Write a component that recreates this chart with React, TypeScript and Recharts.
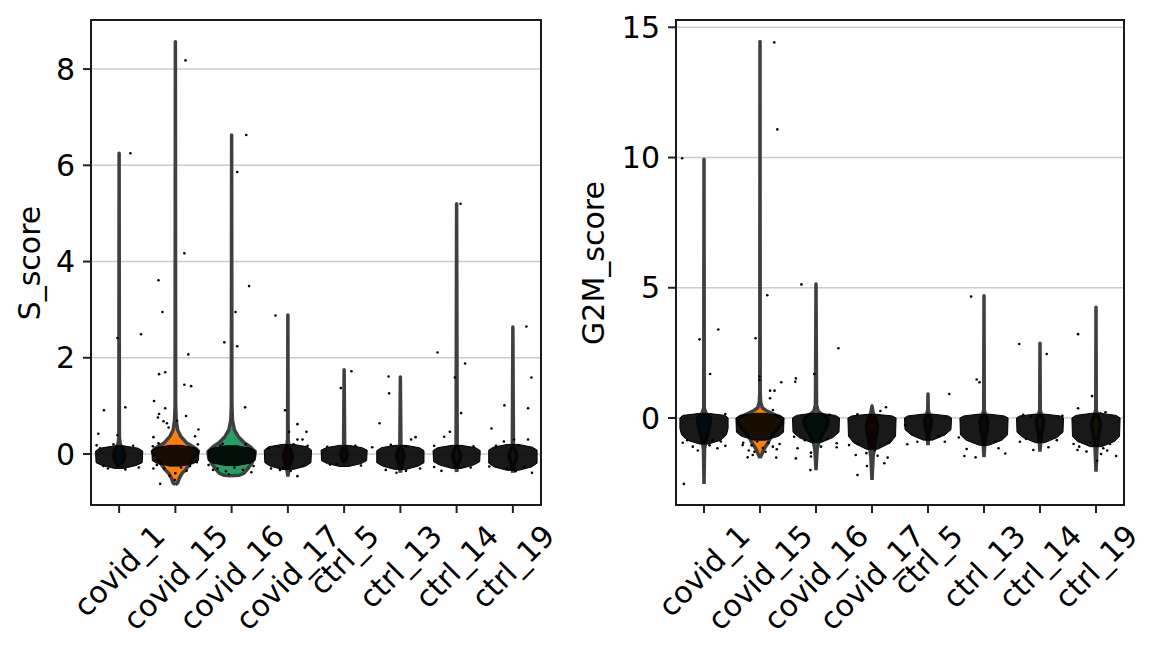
import React from "react";
import { ScatterChart, Scatter, XAxis, YAxis, CartesianGrid } from "recharts";

type Pair = [number, number];

const categories = ["covid_1", "covid_15", "covid_16", "covid_17", "ctrl_5", "ctrl_13", "ctrl_14", "ctrl_19"];
const palette = ["#1f77b4", "#ff7f0e", "#279e68", "#d62728", "#aa40fc", "#8c564b", "#e377c2", "#b5bd61"];

// violin outlines per sample: [score, half width in category units], bottom to top
const sScoreViolins: Pair[][] = [
  [[-0.27, 0], [-0.2, 0.05], [-0.1, 0.09], [0, 0.1], [0.1, 0.07], [0.2, 0.02], [0.35, 0.005], [6.25, 0]],
  [[-0.64, 0], [-0.6, 0.04], [-0.5, 0.07], [-0.4, 0.12], [-0.33, 0.18], [-0.2, 0.26], [-0.12, 0.31], [0, 0.39], [0.05, 0.41], [0.12, 0.36], [0.23, 0.2], [0.36, 0.1], [0.5, 0.04], [0.7, 0.015], [1.0, 0.005], [8.57, 0]],
  [[-0.45, 0], [-0.44, 0.14], [-0.4, 0.22], [-0.33, 0.27], [-0.19, 0.36], [-0.05, 0.41], [0.05, 0.42], [0.15, 0.33], [0.23, 0.23], [0.36, 0.12], [0.5, 0.05], [0.7, 0.015], [1.0, 0.005], [6.63, 0]],
  [[-0.47, 0], [-0.3, 0.02], [-0.15, 0.06], [-0.05, 0.08], [0.05, 0.06], [0.15, 0.02], [0.3, 0.005], [2.89, 0]],
  [[-0.17, 0], [-0.1, 0.04], [0, 0.06], [0.08, 0.04], [0.15, 0.01], [1.75, 0]],
  [[-0.39, 0], [-0.2, 0.03], [-0.05, 0.07], [0.05, 0.05], [0.15, 0.01], [1.6, 0]],
  [[-0.37, 0], [-0.2, 0.03], [-0.05, 0.07], [0.05, 0.05], [0.15, 0.01], [5.2, 0]],
  [[-0.39, 0], [-0.2, 0.03], [-0.05, 0.07], [0.05, 0.05], [0.15, 0.01], [2.64, 0]],
];

// dense core of the jittered cells: [score, half width]
const sScoreBands: Pair[][] = [
  [[-0.3, 0.08], [-0.24, 0.3], [-0.18, 0.41], [0.06, 0.42], [0.12, 0.34], [0.17, 0.08]],
  [[-0.25, 0.1], [-0.2, 0.32], [-0.14, 0.41], [0.08, 0.42], [0.13, 0.34], [0.18, 0.1]],
  [[-0.24, 0.1], [-0.19, 0.33], [-0.13, 0.42], [0.07, 0.42], [0.12, 0.34], [0.17, 0.1]],
  [[-0.32, 0.1], [-0.25, 0.32], [-0.18, 0.41], [0.08, 0.42], [0.15, 0.34], [0.2, 0.1]],
  [[-0.26, 0.08], [-0.2, 0.3], [-0.14, 0.4], [0.08, 0.41], [0.13, 0.32], [0.18, 0.08]],
  [[-0.32, 0.1], [-0.25, 0.32], [-0.18, 0.42], [0.07, 0.42], [0.13, 0.34], [0.18, 0.1]],
  [[-0.3, 0.08], [-0.23, 0.3], [-0.16, 0.41], [0.07, 0.42], [0.13, 0.34], [0.18, 0.08]],
  [[-0.34, 0.1], [-0.27, 0.33], [-0.19, 0.43], [0.08, 0.43], [0.14, 0.35], [0.2, 0.1]],
];

// single cells outside the core: [category position, score]
const sScoreDots: Pair[] = [
  [0.2, 6.25], [1.18, 8.18], [2.26, 6.63], [2.1, 5.86], [1.16, 4.17], [0.7, 3.61], [2.31, 3.49], [0.77, 2.95],
  [2.07, 2.95], [2.78, 2.88], [0.39, 2.49], [-0.03, 2.41], [1.87, 2.32], [2.1, 2.24], [1.23, 2.07], [0.71, 1.66],
  [0.82, 1.7], [-0.27, 0.91], [0.11, 0.97], [-0.37, 0.42], [-0.03, 0.39], [0.62, 1.1], [0.71, 0.83], [0.69, 0.76],
  [0.82, 0.95], [0.79, 0.68], [0.85, 0.64], [0.88, 0.55], [1.03, 0.69], [1.19, 0.79], [1.41, 0.51], [1.35, 0.37],
  [0.61, 0.35], [0.7, 0.22], [0.73, -0.62], [0.99, -0.54], [1.16, 1.44], [1.28, 1.41], [2.24, 0.97], [2.95, 0.91],
  [3.02, 0.46], [3.17, 0.62], [3.33, 0.46], [3.17, 0.3], [3.26, 0.3], [3.17, -0.46], [0.61, -0.3], [0.67, -0.23],
  [1.26, -0.25], [1.38, -0.17], [1.67, -0.33], [1.59, -0.23], [2.39, -0.25], [1.84, 0.21], [-0.28, -0.25],
  [0.11, -0.32], [-0.34, 0.12], [2.86, -0.33], [2.92, -0.28], [3.27, -0.25], [2.66, 0.12], [2.84, 0.15],
  [3.94, 1.37], [4.63, 0.64], [4.8, 1.26], [5.19, 0.3], [5.27, 0.35], [4.83, 0.19], [5.78, 0.36], [5.88, 0.46],
  [6.08, 0.85], [5.73, -0.35], [6.62, 0.53], [6.85, 1.01], [7.27, 0.95], [6.84, 0.26], [7.27, 0.3], [7.02, 0.3],
  [7.34, -0.39], [6.58, -0.26], [4.74, -0.33], [5.35, -0.3], [4.93, -0.39], [3.87, -0.21], [6.07, 5.2],
  [7.24, 2.65], [5.66, 2.11], [6.15, 1.88], [5.97, 1.59], [7.33, 1.59], [4.13, 1.72], [4.79, 1.61],
  [3.7, 0.15], [4.2, 0.17], [4.5, 0.14], [5.1, 0.16], [5.6, 0.17], [6.3, 0.16], [6.7, 0.17], [7.1, 0.18],
  [3.75, -0.22], [4.3, -0.24], [5.6, -0.27], [6.25, -0.28], [6.9, -0.3], [7.2, -0.27], [5.1, -0.35], [7.05, -0.36],
  [-0.4, 0.18], [-0.1, 0.2], [0.25, 0.17], [0.35, -0.28], [-0.2, -0.3], [1.8, 0.17], [2.25, 0.2], [2.35, -0.38],
  [2.7, -0.3], [3.1, 0.2], [3.35, 0.17], [1.0, -0.4], [1.2, -0.35], [0.6, 0.16], [1.4, 0.2], [3.05, -0.35],
  [0.8, -0.3], [1.1, -0.28], [0.9, -0.45], [1.75, -0.3], [1.9, -0.36], [2.05, -0.28], [2.2, -0.33], [1.95, -0.42],
];

const g2mScoreViolins: Pair[][] = [
  [[-2.53, 0], [-1.2, 0.01], [-0.9, 0.03], [-0.6, 0.07], [-0.3, 0.1], [0, 0.12], [0.1, 0.08], [0.2, 0.03], [0.4, 0.005], [9.93, 0]],
  [[-1.54, 0], [-1.4, 0.03], [-1.2, 0.07], [-1.0, 0.13], [-0.72, 0.2], [-0.45, 0.3], [-0.2, 0.4], [-0.05, 0.39], [0.05, 0.34], [0.18, 0.21], [0.3, 0.1], [0.4, 0.04], [0.6, 0.012], [1.0, 0.004], [14.45, 0]],
  [[-2.0, 0], [-1.2, 0.02], [-0.9, 0.05], [-0.6, 0.12], [-0.3, 0.2], [-0.1, 0.22], [0.05, 0.18], [0.15, 0.1], [0.25, 0.04], [0.5, 0.01], [5.14, 0]],
  [[-2.38, 0], [-1.5, 0.02], [-1.0, 0.05], [-0.6, 0.08], [-0.3, 0.1], [0, 0.06], [0.2, 0.02], [0.46, 0]],
  [[-1.04, 0], [-0.6, 0.02], [-0.3, 0.05], [-0.1, 0.06], [0.1, 0.03], [0.3, 0.005], [0.92, 0]],
  [[-1.5, 0], [-0.8, 0.02], [-0.4, 0.06], [-0.1, 0.07], [0.1, 0.03], [0.3, 0.005], [4.69, 0]],
  [[-1.29, 0], [-0.7, 0.02], [-0.35, 0.05], [-0.1, 0.07], [0.1, 0.03], [0.3, 0.005], [2.87, 0]],
  [[-2.06, 0], [-1.0, 0.02], [-0.5, 0.06], [-0.2, 0.08], [0.05, 0.04], [0.3, 0.005], [4.25, 0]],
];

const g2mScoreBands: Pair[][] = [
  [[-1.0, 0.08], [-0.85, 0.3], [-0.65, 0.4], [-0.4, 0.43], [0, 0.43], [0.1, 0.38], [0.17, 0.1]],
  [[-0.85, 0.1], [-0.7, 0.33], [-0.55, 0.42], [0, 0.43], [0.1, 0.36], [0.18, 0.08]],
  [[-0.95, 0.08], [-0.75, 0.3], [-0.55, 0.41], [0, 0.42], [0.1, 0.35], [0.18, 0.08]],
  [[-1.2, 0.1], [-0.95, 0.33], [-0.7, 0.42], [0, 0.43], [0.08, 0.36], [0.14, 0.08]],
  [[-0.85, 0.08], [-0.65, 0.3], [-0.45, 0.41], [0, 0.42], [0.08, 0.36], [0.15, 0.08]],
  [[-1.05, 0.08], [-0.85, 0.32], [-0.65, 0.42], [0, 0.43], [0.08, 0.36], [0.15, 0.08]],
  [[-0.95, 0.08], [-0.75, 0.3], [-0.55, 0.41], [0, 0.42], [0.08, 0.36], [0.15, 0.08]],
  [[-1.1, 0.1], [-0.9, 0.33], [-0.7, 0.42], [0, 0.43], [0.1, 0.36], [0.18, 0.08]],
];

const g2mScoreDots: Pair[] = [
  [1.255, 14.42], [1.31, 11.08], [-0.39, 9.97], [1.74, 5.13], [1.13, 4.71], [0.255, 3.4], [0.92, 3.06], [-0.08, 3.02],
  [0.11, 1.69], [0.99, 1.59], [0.99, 1.46], [1.38, 1.37], [1.18, 1.05], [1.26, 1.05], [1.18, 0.76], [1.23, 0.31],
  [0.38, 0.15], [2.4, 2.68], [1.97, 1.69], [1.64, 1.52], [1.63, 1.39], [2.24, 0.12], [2.74, 0.14], [3.15, 0.27],
  [3.25, 0.41], [3.59, -0.27], [-0.38, -0.95], [-0.11, -1.25], [0.38, -1.07], [0.24, -1.16], [0.78, -1.51],
  [0.87, -1.42], [1.29, -1.52], [1.23, -1.1], [0.69, -1.04], [1.64, -1.55], [1.61, -0.72], [1.67, -1.16],
  [1.91, -1.33], [1.91, -1.48], [1.9, -2.0], [2.09, -1.1], [2.37, -0.97], [2.37, -1.12], [2.74, -2.19],
  [2.91, -1.84], [2.71, -1.42], [2.59, -1.04], [3.28, -1.52], [3.22, -1.74], [3.15, -1.04], [-0.36, -2.53],
  [4.38, 0.92], [5.63, 2.84], [6.12, 2.46], [6.68, 3.22], [4.87, 1.48], [4.92, 1.37], [6.93, 0.84], [6.68, 0.37],
  [7.08, 0.18], [7.17, 0.22], [5.7, 0.12], [5.84, 0.05], [6.4, 0.08], [3.63, -1.01], [3.81, -0.91], [4.3, -0.91],
  [4.65, -1.46], [4.69, -1.19], [5.26, -1.16], [5.38, -1.36], [4.85, -1.51], [5.88, -1.23], [6.15, -1.12],
  [5.64, -0.91], [6.67, -1.23], [6.83, -1.29], [7.02, -1.64], [7.13, -1.16], [7.36, -1.46], [7.09, -1.38],
  [4.77, 4.66], [-0.2, -1.1], [0.15, -0.85], [0.3, -0.9], [0.8, -1.25], [1.1, -1.3], [1.35, -1.0], [1.8, -0.85],
  [2.2, -0.8], [2.75, -1.0], [3.05, -1.25], [3.3, -0.95], [4.2, -0.7], [4.55, -0.75], [5.0, -1.05], [5.2, -0.9],
  [5.75, -0.8], [6.3, -0.85], [6.6, -1.0], [7.25, -1.0], [6.9, -0.95],
  [0.7, -0.95], [0.85, -1.05], [0.95, -0.9], [1.05, -1.15], [1.15, -0.95], [1.3, -1.2], [0.9, -1.3],
  [-0.3, -0.85], [-0.05, -0.95], [0.1, -1.05], [2.9, -1.35], [3.1, -1.45], [6.7, -1.1], [7.2, -1.25],
];

const sScoreTicks = [0, 2, 4, 6, 8];
const g2mScoreTicks = [0, 5, 10, 15];

const FONT = "DejaVu Sans";
const FONT_SIZE = 30;
const INK = "#000000";
const VIOLIN_EDGE = "#3f3f3f";

const outline = (profile: Pair[], center: number) => {
  const right = profile.map(([y, w]) => ({ x: center + w, y }));
  const left = [...profile].reverse().map(([y, w]) => ({ x: center - w, y }));
  const pts = [...right, ...left];
  return [...pts, pts[0]];
};

let measureCtx: CanvasRenderingContext2D | null = null;
const textWidth = (s: string) => {
  if (!measureCtx) measureCtx = document.createElement("canvas").getContext("2d");
  if (!measureCtx) return s.length * FONT_SIZE * 0.58;
  measureCtx.font = `${FONT_SIZE}px "${FONT}"`;
  return measureCtx.measureText(s).width;
};

// rotated label, its bounding box centred under the tick like matplotlib
const CategoryTick = ({ x, y, payload }: any) => {
  const label = categories[Math.round(payload.value)] ?? "";
  const h = FONT_SIZE * 1.164;
  const boxH = (textWidth(label) + h) * Math.SQRT1_2;
  const cy = y + 3 + boxH / 2;
  return (
    <text
      x={x}
      y={cy}
      textAnchor="middle"
      dominantBaseline="central"
      transform={`rotate(-45 ${x} ${cy})`}
      fontSize={FONT_SIZE}
      fontFamily={FONT}
      fill={INK}
    >
      {label}
    </text>
  );
};

const noMarker = () => <g />;
const dotMarker = (p: any) => <circle cx={p.cx} cy={p.cy} r={1.3} fill={INK} />;

interface PanelProps {
  left: number
  width: number
  axisWidth: number
  marginRight: number
  domain: [number, number]
  ticks: number[]
  violins: Pair[][]
  bands: Pair[][]
  dots: Pair[]
}

function ViolinPanel({ left, width, axisWidth, marginRight, domain, ticks, violins, bands, dots }: PanelProps) {
  const dotData = dots.map(([x, y]) => ({ x, y }));
  return (
    <div style={{ position: "absolute", left, top: 0 }}>
      <ScatterChart width={width} height={658} margin={{ top: 20, right: marginRight, bottom: 0, left: 0 }}>
        <CartesianGrid vertical={false} stroke="#cccccc" strokeWidth={1.5} />
        <XAxis
          type="number"
          dataKey="x"
          domain={[-0.5, 7.5]}
          ticks={categories.map((_, i) => i)}
          interval={0}
          allowDataOverflow
          height={153}
          axisLine={false}
          tickSize={8}
          tickLine={{ stroke: "#222222", strokeWidth: 2 }}
          tick={<CategoryTick />}
        />
        <YAxis
          type="number"
          dataKey="y"
          domain={domain}
          ticks={ticks}
          allowDataOverflow
          width={axisWidth}
          axisLine={false}
          tickSize={8}
          tickMargin={8}
          tickLine={{ stroke: "#222222", strokeWidth: 2 }}
          tick={{ fontSize: FONT_SIZE, fontFamily: FONT, fill: INK }}
        />
        {violins.map((profile, i) => (
          <Scatter
            key={`violin-${i}`}
            data={outline(profile, i)}
            shape={noMarker}
            line={{ stroke: VIOLIN_EDGE, strokeWidth: 3.5, fill: palette[i], strokeLinejoin: "round" }}
            lineJointType="linear"
            isAnimationActive={false}
          />
        ))}
        {bands.map((profile, i) => (
          <Scatter
            key={`band-${i}`}
            data={outline(profile, i)}
            shape={noMarker}
            line={{ stroke: INK, strokeWidth: 1, fill: INK, fillOpacity: 0.9 }}
            lineJointType="linear"
            isAnimationActive={false}
          />
        ))}
        <Scatter data={dotData} shape={dotMarker} isAnimationActive={false} />
      </ScatterChart>
    </div>
  );
}

const Frame = ({ left, width }: { left: number; width: number }) => (
  <div
    style={{
      position: "absolute",
      left,
      top: 19,
      width,
      height: 487,
      boxSizing: "border-box",
      border: "2px solid #1a1a1a",
      pointerEvents: "none",
    }}
  />
);

const AxisTitle = ({ x, text }: { x: number; text: string }) => (
  <div
    style={{
      position: "absolute",
      left: x,
      top: 263,
      transform: "translate(-50%, -50%) rotate(-90deg)",
      fontFamily: FONT,
      fontSize: FONT_SIZE,
      lineHeight: 1,
      whiteSpace: "nowrap",
      color: INK,
    }}
  >
    {text}
  </div>
);

export default function App() {
  return (
    <div style={{ position: "absolute", left: 0, top: 0, width: 1161, height: 658, background: "#ffffff", overflow: "hidden" }}>
      <ViolinPanel
        left={0}
        width={580}
        axisWidth={91}
        marginRight={39}
        domain={[-1.06, 9.02]}
        ticks={sScoreTicks}
        violins={sScoreViolins}
        bands={sScoreBands}
        dots={sScoreDots}
      />
      <ViolinPanel
        left={580}
        width={581}
        axisWidth={96}
        marginRight={37}
        domain={[-3.34, 15.28]}
        ticks={g2mScoreTicks}
        violins={g2mScoreViolins}
        bands={g2mScoreBands}
        dots={g2mScoreDots}
      />
      <Frame left={90} width={452} />
      <Frame left={675} width={450} />
      <AxisTitle x={30} text="S_score" />
      <AxisTitle x={594} text="G2M_score" />
    </div>
  );
}
